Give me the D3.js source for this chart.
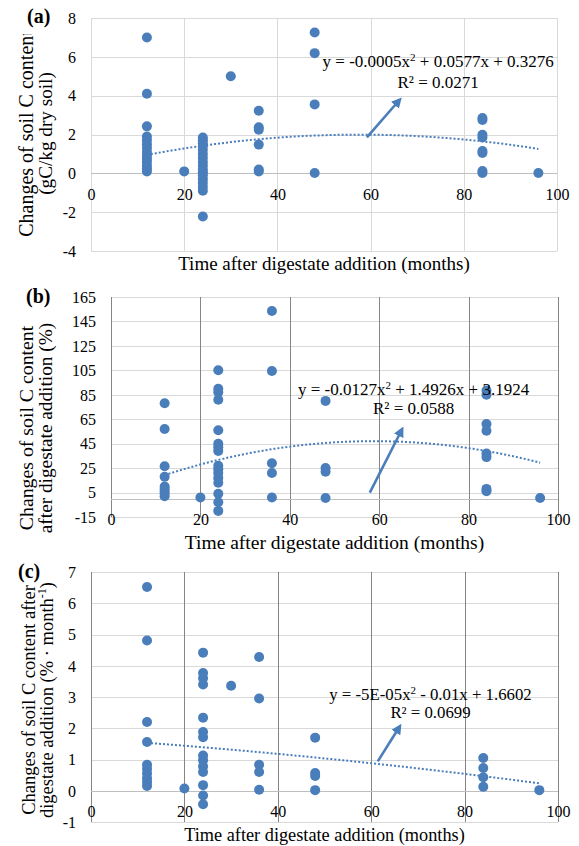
<!DOCTYPE html>
<html>
<head>
<meta charset="utf-8">
<script src="https://cdn.jsdelivr.net/npm/d3@7"></script>
<style>
  body { margin: 0; background: #fff; }
  svg { display: block; }
  text { font-family: "Liberation Serif", "Times New Roman", serif; fill: #000; }
</style>
</head>
<body>
<svg id="fig" width="579" height="846"></svg>
<script>
// ---- shared axis values ----
const monthTicks = [0, 20, 40, 60, 80, 100];
const xTitle = "Time after digestate addition (months)";

// ---- (a) change of soil C content, gC/kg dry soil ----
const monthsA = [12,12,12,12,12,12,12,12,12,12,12,12,12,12,
                 20,
                 24,24,24,24,24,24,24,24,24,24,24,24,24,24,24,24,24,
                 30,
                 36,36,36,36,36,36,
                 48,48,48,48,
                 84,84,84,84,84,84,84,84,
                 96];
const carbonA = [7.0,4.1,2.42,1.9,1.7,1.5,1.3,1.1,0.9,0.75,0.6,0.4,0.25,0.1,
                 0.1,
                 1.85,1.7,1.55,1.4,1.2,1.0,0.8,0.6,0.4,0.2,0.05,-0.1,-0.3,-0.5,-0.7,-0.9,-2.22,
                 5.0,
                 3.22,2.37,2.25,1.48,0.2,0.1,
                 7.25,6.19,3.55,0.02,
                 2.85,2.75,1.99,1.85,1.15,1.05,0.12,0.02,
                 0.02];
const ticksA = [-4, -2, 0, 2, 4, 6, 8];
const coefA = [-0.0005, 0.0577, 0.3276];
const eqA = ["y = -0.0005x", "2", " + 0.0577x + 0.3276"];
const r2A = "R\u00B2 = 0.0271";
const arrowA = [[59.2, 1.85], [66.1, 3.75]];

// ---- (b) relative change of soil C content, % ----
const monthsB = [12,12,12,12,12,12,12,12,12,
                 20,
                 24,24,24,24,24,24,24,24,24,24,24,24,24,24,24,24,
                 36,36,36,36,36,
                 48,48,48,48,
                 84,84,84,84,84,84,84,84,
                 96];
const changeB = [78,57,26.5,18,10,8,6,4,2,
                 1,
                 105,90,87,81,56,45,42,39,27,24,21,17,13,4,-3,-10,
                 153.5,104.5,29,21,1,
                 80,25,22,0.5,
                 88.5,85,61,55.5,37,34,8,6,
                 0.5];
const ticksB = [-15, 5, 25, 45, 65, 85, 105, 125, 145, 165];
const coefB = [-0.0127, 1.4926, 3.1924];
const eqB = ["y = -0.0127x", "2", " + 1.4926x + 3.1924"];
const r2B = "R\u00B2 = 0.0588";
const arrowB = [[57.9, 5], [65, 56]];

// ---- (c) monthly change rate of soil C content, % per month ----
const monthsC = [12,12,12,12,12,12,12,12,12,12,
                 20,
                 24,24,24,24,24,24,24,24,24,24,24,24,24,24,
                 30,
                 36,36,36,36,36,
                 48,48,48,48,
                 84,84,84,84,
                 96];
const rateC = [6.52,4.81,2.2,1.56,0.83,0.7,0.55,0.4,0.28,0.15,
               0.07,
               4.42,3.77,3.6,3.4,2.34,1.88,1.71,1.13,0.98,0.78,0.6,0.18,-0.15,-0.43,
               3.36,
               4.28,2.95,0.83,0.6,0.03,
               1.7,0.57,0.47,0.02,
               1.05,0.73,0.43,0.13,
               0.02];
const ticksC = [-1, 0, 1, 2, 3, 4, 5, 6, 7];
const coefC = [-0.00005, -0.01, 1.6602];
const eqC = ["y = -5E-05x", "2", " - 0.01x + 1.6602"];
const r2C = "R\u00B2 = 0.0699";
const arrowC = [[61.4, 0.94], [66, 2.03]];

const blue = "#4a7ebb";
const svg = d3.select("#fig");

svg.append("defs").append("marker")
  .attr("id", "arrowHead")
  .attr("viewBox", "0 0 10 10")
  .attr("refX", 6).attr("refY", 5)
  .attr("markerWidth", 4).attr("markerHeight", 4)
  .attr("orient", "auto")
  .append("path").attr("d", "M0,0 L10,5 L0,10 Z").attr("fill", blue);

const panels = [
  { tag: "(a)", tagX: 27, tagY: 23,
    months: monthsA, values: carbonA, ticks: ticksA, coef: coefA, eq: eqA, r2: r2A, arrow: arrowA,
    left: 91, right: 557, top: 18, bottom: 251, vGrid: "#d9d9d9",
    eqPos: [74.5, 67.3, 88], eqSize: 17,
    yLines: [["Changes of soil C content", 33, 20], ["(gC/kg dry soil)", 52, 19.2]],
    yCenter: 133.5, yClipTop: 34,
    titleY: 270, titleSize: 19 },
  { tag: "(b)", tagX: 26, tagY: 303,
    months: monthsB, values: changeB, ticks: ticksB, coef: coefB, eq: eqB, r2: r2B, arrow: arrowB,
    left: 111, right: 558, top: 297, bottom: 517, vGrid: "#858585",
    eqPos: [67.7, 394.5, 414], eqSize: 17,
    yLines: [["Changes of soil C content", 33, 19.8], ["after digestate addition (%)", 52, 19.3]],
    yCenter: 428, yClipTop: null,
    titleY: 549, titleSize: 19.5 },
  { tag: "(c)", tagX: 18, tagY: 578,
    months: monthsC, values: rateC, ticks: ticksC, coef: coefC, eq: eqC, r2: r2C, arrow: arrowC,
    left: 91, right: 558, top: 572, bottom: 822, vGrid: "#858585",
    eqPos: [72.7, 699.5, 717.5], eqSize: 16.8,
    yLines: [["Changes of soil C content after", 35, 18.5], ["digestate addition (% \u00B7 month", 53, 18.5, "-1", ")"]],
    yCenter: 700, yClipTop: null,
    titleY: 841, titleSize: 18.3 }
];

panels.forEach((p, i) => {
  const g = svg.append("g");
  const x = d3.scaleLinear().domain([0, 100]).range([p.left, p.right]);
  const y = d3.scaleLinear().domain([p.ticks[0], p.ticks[p.ticks.length - 1]]).range([p.bottom, p.top]);
  const px = v => Math.round(v) + 0.5;

  // horizontal gridlines
  g.append("g").selectAll("line").data(p.ticks).join("line")
    .attr("x1", p.left).attr("x2", p.right)
    .attr("y1", d => px(y(d))).attr("y2", d => px(y(d)))
    .attr("stroke", "#d9d9d9").attr("stroke-width", 1);

  // vertical gridlines
  g.append("g").selectAll("line").data(monthTicks).join("line")
    .attr("x1", d => px(x(d))).attr("x2", d => px(x(d)))
    .attr("y1", p.top).attr("y2", p.bottom)
    .attr("stroke", p.vGrid).attr("stroke-width", 1);

  // horizontal axis at zero
  g.append("line")
    .attr("x1", p.left).attr("x2", p.right)
    .attr("y1", px(y(0))).attr("y2", px(y(0)))
    .attr("stroke", "#bfbfbf").attr("stroke-width", 1);

  // y tick labels
  const ya = g.append("g").attr("transform", `translate(${p.left},0)`)
    .call(d3.axisLeft(y).tickValues(p.ticks).tickSize(0).tickPadding(15).tickFormat(d => String(d)));
  ya.select(".domain").remove();
  ya.attr("font-size", 16).attr("font-family", null);
  ya.selectAll("text").attr("dy", "0.33em");

  // x tick labels next to the zero line
  const xa = g.append("g").attr("transform", `translate(0,${y(0)})`)
    .call(d3.axisBottom(x).tickValues(monthTicks).tickSize(0).tickPadding(15).tickFormat(d => String(d)));
  xa.select(".domain").remove();
  xa.attr("font-size", 16).attr("font-family", null);

  // quadratic trendline over the observed range
  const [a, b, c] = p.coef;
  const fit = t => a * t * t + b * t + c;
  const [t0, t1] = d3.extent(p.months);
  const trend = d3.range(t0, t1 + 0.001, 0.5);
  g.append("path")
    .datum(trend)
    .attr("d", d3.line().x(t => x(t)).y(t => y(fit(t))))
    .attr("fill", "none").attr("stroke", blue)
    .attr("stroke-width", 2).attr("stroke-dasharray", "2,2");

  // observations
  g.append("g").selectAll("circle").data(p.months.map((m, k) => [m, p.values[k]])).join("circle")
    .attr("cx", d => x(d[0])).attr("cy", d => y(d[1]))
    .attr("r", 5).attr("fill", blue);

  // equation callout arrow
  g.append("line")
    .attr("x1", x(p.arrow[0][0])).attr("y1", y(p.arrow[0][1]))
    .attr("x2", x(p.arrow[1][0])).attr("y2", y(p.arrow[1][1]))
    .attr("stroke", blue).attr("stroke-width", 2.6)
    .attr("marker-end", "url(#arrowHead)");

  // equation and R²
  const eq = g.append("text")
    .attr("x", x(p.eqPos[0])).attr("y", p.eqPos[1])
    .attr("text-anchor", "middle").attr("font-size", p.eqSize);
  eq.append("tspan").text(p.eq[0]);
  eq.append("tspan").attr("baseline-shift", "super").attr("font-size", p.eqSize * 0.65).text(p.eq[1]);
  eq.append("tspan").text(p.eq[2]);
  g.append("text")
    .attr("x", x(p.eqPos[0])).attr("y", p.eqPos[2])
    .attr("text-anchor", "middle").attr("font-size", p.eqSize)
    .text(p.r2);

  // axis titles
  g.append("text")
    .attr("x", (p.left + p.right) / 2).attr("y", p.titleY)
    .attr("text-anchor", "middle").attr("font-size", p.titleSize)
    .text(xTitle);

  const yg = g.append("g");
  if (p.yClipTop !== null) {
    const id = "yclip" + i;
    svg.select("defs").append("clipPath").attr("id", id)
      .append("rect").attr("x", 0).attr("y", p.yClipTop).attr("width", p.left - 20).attr("height", p.bottom - p.yClipTop + 40);
    yg.attr("clip-path", `url(#${id})`);
  }
  p.yLines.forEach(line => {
    const t = yg.append("text")
      .attr("transform", `translate(${line[1]},${p.yCenter}) rotate(-90)`)
      .attr("text-anchor", "middle").attr("font-size", line[2]);
    t.append("tspan").text(line[0]);
    if (line.length > 3) {
      t.append("tspan").attr("baseline-shift", "super").attr("font-size", line[2] * 0.65).text(line[3]);
      t.append("tspan").text(line[4]);
    }
  });

  // panel tag
  g.append("text")
    .attr("x", p.tagX).attr("y", p.tagY)
    .attr("font-size", 20).attr("font-weight", "bold")
    .text(p.tag);
});
</script>
</body>
</html>
